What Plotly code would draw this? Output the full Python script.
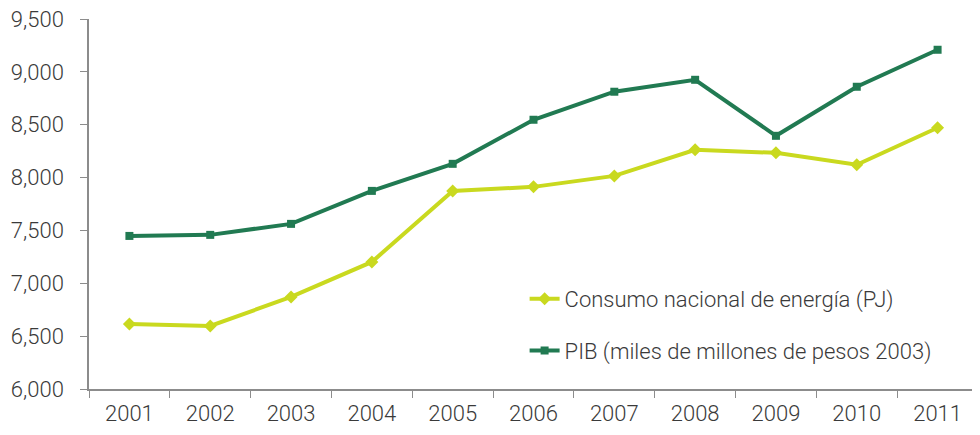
import plotly.graph_objects as go

years = ["2001", "2002", "2003", "2004", "2005", "2006", "2007", "2008", "2009", "2010", "2011"]
consumo = [6615, 6596, 6871, 7202, 7874, 7912, 8016, 8263, 8234, 8121, 8471]
pib = [7448, 7458, 7562, 7874, 8130, 8547, 8812, 8925, 8395, 8859, 9209]
y_ticks = [6000, 6500, 7000, 7500, 8000, 8500, 9000, 9500]
y_labels = [f"{v:,}" for v in y_ticks]

FONT = "Roboto, sans-serif"
TXT = "#3a3a3a"

fig = go.Figure()
fig.add_trace(go.Scatter(
    x=years, y=consumo, name="Consumo nacional de energía (PJ)",
    mode="lines+markers", legendgroup="a",
    line=dict(color="#C9D91F", width=4),
    marker=dict(symbol="diamond", size=10, color="#C9D91F"),
))
fig.add_trace(go.Scatter(
    x=years, y=pib, name="PIB (miles de millones de pesos 2003)",
    mode="lines+markers", legendgroup="b",
    line=dict(color="#217A52", width=4),
    marker=dict(symbol="square", size=8, color="#217A52"),
))

fig.update_layout(
    width=972, height=427,
    margin=dict(l=81, r=2, t=11, b=46),
    paper_bgcolor="white", plot_bgcolor="white",
    font=dict(family=FONT, size=22, color=TXT, weight=300),
    showlegend=True,
    legend=dict(
        x=0.49, y=0.30, xanchor="left", yanchor="top",
        traceorder="grouped", tracegroupgap=20,
        font=dict(family=FONT, size=22, color=TXT, weight=300),
        bgcolor="rgba(0,0,0,0)",
    ),
    xaxis=dict(
        type="category", range=[-0.5, 10.5], automargin=False,
        showline=True, linecolor="#8c8c8c", linewidth=1.5,
        ticks="outside", tickson="boundaries", ticklen=7, tickcolor="#8c8c8c",
        showgrid=False, zeroline=False, ticklabelstandoff=4,
        ticklabeloverflow="allow",
        tickfont=dict(family=FONT, size=22, color=TXT, weight=300),
    ),
    yaxis=dict(
        range=[6000, 9500], tickvals=y_ticks, ticktext=y_labels, automargin=False,
        showline=True, linecolor="#8c8c8c", linewidth=1.5,
        ticks="outside", ticklen=7, tickcolor="#8c8c8c",
        showgrid=False, zeroline=False, ticklabelstandoff=12,
        ticklabeloverflow="allow",
        tickfont=dict(family=FONT, size=22, color=TXT, weight=300),
    ),
)

fig.write_html("out.html")
